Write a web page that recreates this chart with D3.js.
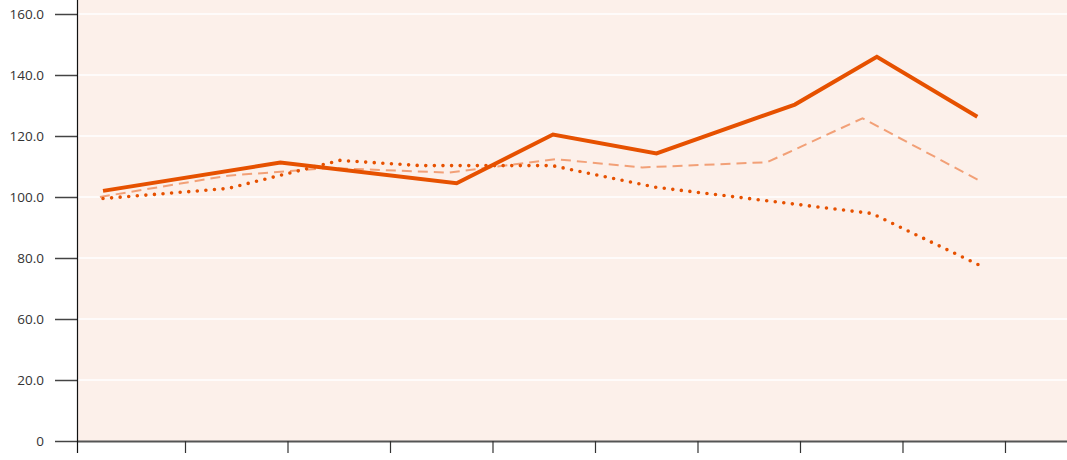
<!DOCTYPE html>
<html>
<head>
<meta charset="utf-8">
<script src="https://cdn.jsdelivr.net/npm/d3@7"></script>
<style>
  html, body { margin: 0; padding: 0; background: #ffffff; }
  svg { display: block; }
</style>
</head>
<body>
<svg id="chart" width="1067" height="460"></svg>
<script>
// ---- data ----
const yTickValues = [20, 40, 60, 80, 100, 120, 140, 160];
const yTickLabels = ["0", "20.0", "60.0", "80.0", "100.0", "120.0", "140.0", "160.0"];
const xTickValues = [1, 2, 3, 4, 5, 6, 7, 8, 9];

const solidX = [0.20, 1.93, 3.65, 4.59, 5.60, 6.95, 7.75, 8.73];
const solidY = [102.0, 111.3, 104.5, 120.5, 114.3, 130.3, 146.0, 126.3];

const dashedX = [0.17, 1.42, 2.41, 3.58, 4.62, 5.46, 6.68, 7.61, 8.75];
const dashedY = [100.0, 107.0, 109.5, 108.0, 112.4, 109.7, 111.4, 125.8, 105.4];

const dottedX = [0.20, 1.42, 2.51, 3.29, 4.58, 5.59, 7.70, 8.79];
const dottedY = [99.5, 102.8, 112.0, 110.3, 110.3, 103.2, 94.6, 77.0];

// ---- layout ----
const svg = d3.select("#chart");
const mLeft = 77, mRight = 1067, mTop = 0, mBottom = 441;

const x = d3.scaleLinear().domain([-0.0537, 9.605]).range([mLeft, mRight]);
const y = d3.scaleLinear().domain([20, 160]).range([mBottom, 14]);

// plot background
svg.append("rect")
  .attr("x", mLeft).attr("y", mTop)
  .attr("width", mRight - mLeft).attr("height", mBottom - mTop)
  .attr("fill", "#fcf0ea");

// gridlines
svg.append("g").selectAll("line").data(yTickValues.slice(1)).join("line")
  .attr("x1", mLeft).attr("x2", mRight)
  .attr("y1", d => y(d)).attr("y2", d => y(d))
  .attr("stroke", "#ffffff").attr("stroke-width", 1.6);

// lines
const line = d3.line().x(d => x(d[0])).y(d => y(d[1]));
const zip = (a, b) => a.map((v, i) => [v, b[i]]);

svg.append("path").datum(zip(dashedX, dashedY))
  .attr("d", line).attr("fill", "none")
  .attr("stroke", "#f2a077").attr("stroke-width", 2)
  .attr("stroke-dasharray", "10,6");

svg.append("path").datum(zip(dottedX, dottedY))
  .attr("d", line).attr("fill", "none")
  .attr("stroke", "#e65100").attr("stroke-width", 3.6)
  .attr("stroke-linecap", "round")
  .attr("stroke-dasharray", "0,8.6");

svg.append("path").datum(zip(solidX, solidY))
  .attr("d", line).attr("fill", "none")
  .attr("stroke", "#e65100").attr("stroke-width", 4)
  .attr("stroke-linejoin", "miter");

// x axis
const xAxis = d3.axisBottom(x).tickValues(xTickValues).tickFormat("").tickSize(12).tickSizeOuter(0);
const gx = svg.append("g").attr("transform", `translate(0,${mBottom})`).call(xAxis);
gx.select(".domain").attr("stroke", "#555").attr("stroke-width", 2);
gx.selectAll(".tick line").attr("stroke", "#333").attr("stroke-width", 1.2);

// y axis
const yAxis = d3.axisLeft(y).tickValues(yTickValues)
  .tickFormat((d, i) => yTickLabels[i]).tickSize(22).tickPadding(11).tickSizeOuter(0);
const gy = svg.append("g").attr("transform", `translate(${mLeft},0)`).call(yAxis);
gy.select(".domain").remove();
gy.selectAll(".tick line").attr("stroke", "#444").attr("stroke-width", 1.5);
gy.selectAll(".tick text")
  .attr("font-family", "'Open Sans', 'Noto Sans', sans-serif")
  .attr("font-size", 13.5).attr("fill", "#333");

// y axis line, extending below the x axis
svg.append("line")
  .attr("x1", mLeft + 0.5).attr("x2", mLeft + 0.5)
  .attr("y1", 0).attr("y2", mBottom + 12)
  .attr("stroke", "#111").attr("stroke-width", 1.2);
</script>
</body>
</html>
